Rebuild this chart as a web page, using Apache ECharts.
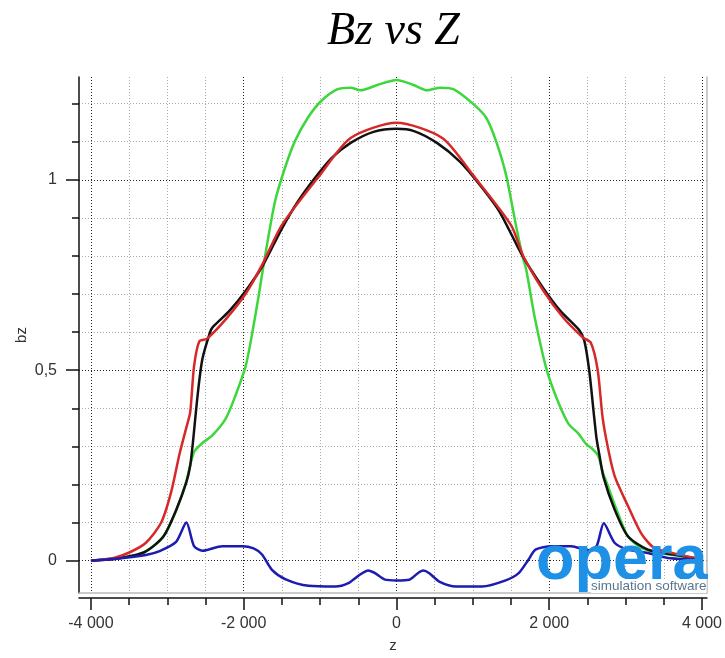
<!DOCTYPE html>
<html>
<head>
<meta charset="utf-8">
<title>Bz vs Z</title>
<script src="https://cdn.jsdelivr.net/npm/echarts@6/dist/echarts.min.js"></script>
<style>
html, body { margin: 0; padding: 0; background: #fff; }
#chart { width: 725px; height: 658px; }
</style>
</head>
<body>
<div id="chart"></div>
<script>
// z -- position along the axis
// bz -- field component, one array per curve (black, red, green, blue)

var zBlack = [-4000, -3700, -3300, -3050, -2880, -2750, -2700, -2670, -2600, -2540, -2440, -2410, -2190, -1975, -1750, -1500, -1290, -1070, -850, -600, -300, 0, 230, 530, 830, 1090, 1350, 1650, 1920, 2140, 2390, 2460, 2525, 2590, 2620, 2655, 2710, 2855, 3030, 3290, 3630, 4000];
var bzBlack = [0, 0.004, 0.022, 0.064, 0.135, 0.206, 0.25, 0.30, 0.44, 0.53, 0.60, 0.612, 0.655, 0.708, 0.775, 0.872, 0.943, 1.004, 1.057, 1.097, 1.126, 1.134, 1.128, 1.097, 1.048, 0.987, 0.916, 0.80, 0.716, 0.657, 0.606, 0.577, 0.497, 0.374, 0.32, 0.28, 0.22, 0.135, 0.064, 0.029, 0.016, 0.003];

var zRed = [-4000, -3700, -3490, -3280, -3080, -2950, -2840, -2750, -2700, -2650, -2580, -2480, -2230, -1970, -1750, -1500, -1000, -600, 0, 600, 1000, 1500, 1660, 1920, 2180, 2440, 2545, 2635, 2700, 2780, 2860, 3030, 3200, 3370, 3630, 4000];
var bzRed = [0, 0.007, 0.022, 0.047, 0.10, 0.18, 0.28, 0.35, 0.39, 0.51, 0.576, 0.583, 0.635, 0.702, 0.78, 0.881, 1.013, 1.110, 1.150, 1.110, 1.013, 0.881, 0.80, 0.71, 0.639, 0.586, 0.572, 0.50, 0.374, 0.285, 0.22, 0.144, 0.073, 0.034, 0.019, 0.003];

var zGreen = [-4000, -3490, -3280, -3060, -2885, -2755, -2650, -2540, -2410, -2235, -2105, -1975, -1890, -1800, -1720, -1590, -1460, -1330, -1160, -985, -770, -600, -470, -250, 0, 225, 400, 570, 745, 1000, 1175, 1305, 1435, 1565, 1650, 1700, 1810, 1960, 2100, 2250, 2380, 2480, 2560, 2640, 2700, 2750, 2880, 3030, 3200, 3460, 3890, 4000];
var bzGreen = [0, 0.011, 0.025, 0.06, 0.131, 0.206, 0.285, 0.309, 0.329, 0.373, 0.435, 0.51, 0.595, 0.70, 0.80, 0.943, 1.031, 1.101, 1.163, 1.207, 1.238, 1.242, 1.235, 1.249, 1.262, 1.249, 1.235, 1.242, 1.238, 1.2, 1.163, 1.101, 1.013, 0.88, 0.80, 0.763, 0.639, 0.506, 0.425, 0.36, 0.334, 0.307, 0.294, 0.276, 0.233, 0.206, 0.135, 0.064, 0.034, 0.019, 0.007, 0.003];

var zBlue = [-4000, -3710, -3280, -3100, -2885, -2750, -2650, -2540, -2280, -2020, -1870, -1760, -1630, -1450, -1150, -800, -630, -480, -370, -280, -150, 0, 170, 280, 350, 430, 560, 780, 1120, 1430, 1600, 1730, 1820, 2030, 2290, 2510, 2620, 2715, 2855, 3030, 3290, 3550, 3890, 4000];
var bzBlue = [0, 0.004, 0.015, 0.025, 0.049, 0.10, 0.038, 0.026, 0.038, 0.038, 0.032, 0.016, -0.024, -0.049, -0.066, -0.068, -0.059, -0.037, -0.026, -0.033, -0.05, -0.052, -0.05, -0.033, -0.026, -0.033, -0.055, -0.068, -0.068, -0.052, -0.033, 0.003, 0.029, 0.038, 0.038, 0.027, 0.038, 0.098, 0.047, 0.029, 0.020, 0.007, 0.003, 0.002];

// tick labels
var zTicks = [-4000, -2000, 0, 2000, 4000];
var bzTicks = [0, 0.5, 1];

var myChart = echarts.init(document.getElementById('chart'));

function pairs(zs, vs) {
	return zs.map(function(z, i) { return [z, vs[i]]; });
}
// -4000 -> "-4 000"
function fmtZ(v) {
	var s = String(Math.abs(v)).replace(/\B(?=(\d{3})+(?!\d))/g, ' ');
	return (v < 0 ? '-' : '') + s;
}
// 0.5 -> "0,5"
function fmtBz(v) {
	return String(v).replace('.', ',');
}

var labelFont = { fontFamily: 'Liberation Sans', fontSize: 16, color: '#333' };
var majorGrid = { color: '#222', width: 1, type: [1, 2] };
var minorGrid = { color: '#aaa', width: 1, type: [1, 2] };
var axisDark = { color: '#111', width: 1.5 };
var frame = { color: '#bbb', width: 1.5 };

function lineSeries(name, data, color) {
	return {
		name: name,
		type: 'line',
		data: data,
		showSymbol: false,
		smooth: 0.25,
		lineStyle: { color: color, width: 2.5 },
		itemStyle: { color: color }
	};
}

var option = {
	animation: false,
	backgroundColor: '#fff',
	title: {
		text: 'Bz vs Z',
		left: 322,
		top: 4,
		textStyle: { fontFamily: 'Liberation Serif', fontStyle: 'italic', fontWeight: 'normal', fontSize: 46, color: '#000' }
	},
	grid: { left: 79, right: 12, top: 77, bottom: 65 },
	xAxis: [{
		type: 'value', min: -4156, max: 4065, splitNumber: 4, position: 'bottom', offset: 5,
		name: 'z', nameLocation: 'middle', nameGap: 40, nameMoveOverlap: false,
		nameTextStyle: { fontFamily: 'Liberation Sans', fontSize: 15, color: '#333' },
		axisLine: { show: true, onZero: false, lineStyle: axisDark },
		axisTick: { show: true, length: 12, customValues: zTicks, lineStyle: axisDark },
		minorTick: { show: true, splitNumber: 4, length: 7, lineStyle: axisDark },
		axisLabel: Object.assign({ customValues: zTicks, formatter: fmtZ, margin: 18 }, labelFont),
		splitLine: { show: true, lineStyle: majorGrid },
		minorSplitLine: { show: true, lineStyle: minorGrid }
	}, {
		type: 'value', min: -4156, max: 4065, position: 'bottom', offset: 0,
		axisLine: { show: true, onZero: false, lineStyle: frame },
		axisTick: { show: false }, axisLabel: { show: false }, splitLine: { show: false }
	}],
	yAxis: [{
		type: 'value', min: -0.085, max: 1.27, splitNumber: 3, position: 'left',
		name: 'bz', nameLocation: 'middle', nameGap: 50, nameRotate: 90, nameMoveOverlap: false,
		nameTextStyle: { fontFamily: 'Liberation Sans', fontSize: 15, color: '#333' },
		axisLine: { show: true, onZero: false, lineStyle: axisDark },
		axisTick: { show: true, length: 13, customValues: bzTicks, lineStyle: axisDark },
		minorTick: { show: true, splitNumber: 5, length: 7, lineStyle: axisDark },
		axisLabel: Object.assign({ customValues: bzTicks, formatter: fmtBz, margin: 22 }, labelFont),
		splitLine: { show: true, lineStyle: majorGrid },
		minorSplitLine: { show: true, lineStyle: minorGrid }
	}, {
		type: 'value', min: -0.085, max: 1.27, position: 'right',
		axisLine: { show: true, onZero: false, lineStyle: frame },
		axisTick: { show: false }, axisLabel: { show: false }, splitLine: { show: false }
	}],
	series: [
		lineSeries('green', pairs(zGreen, bzGreen), '#3dd63d'),
		lineSeries('black', pairs(zBlack, bzBlack), '#111111'),
		lineSeries('red', pairs(zRed, bzRed), '#d62828'),
		lineSeries('blue', pairs(zBlue, bzBlue), '#1c1cb0')
	],
	graphic: [{
		type: 'text', left: 536, top: 530, z: 100,
		style: { text: 'opera', fill: '#1e90e6', font: 'bold 63px "Liberation Sans"' }
	}, {
		type: 'text', left: 591, top: 579, z: 101,
		style: { text: 'simulation software', fill: '#5a7590', font: '13.5px "Liberation Sans"', backgroundColor: '#fff' }
	}]
};

myChart.setOption(option);
</script>
</body>
</html>
